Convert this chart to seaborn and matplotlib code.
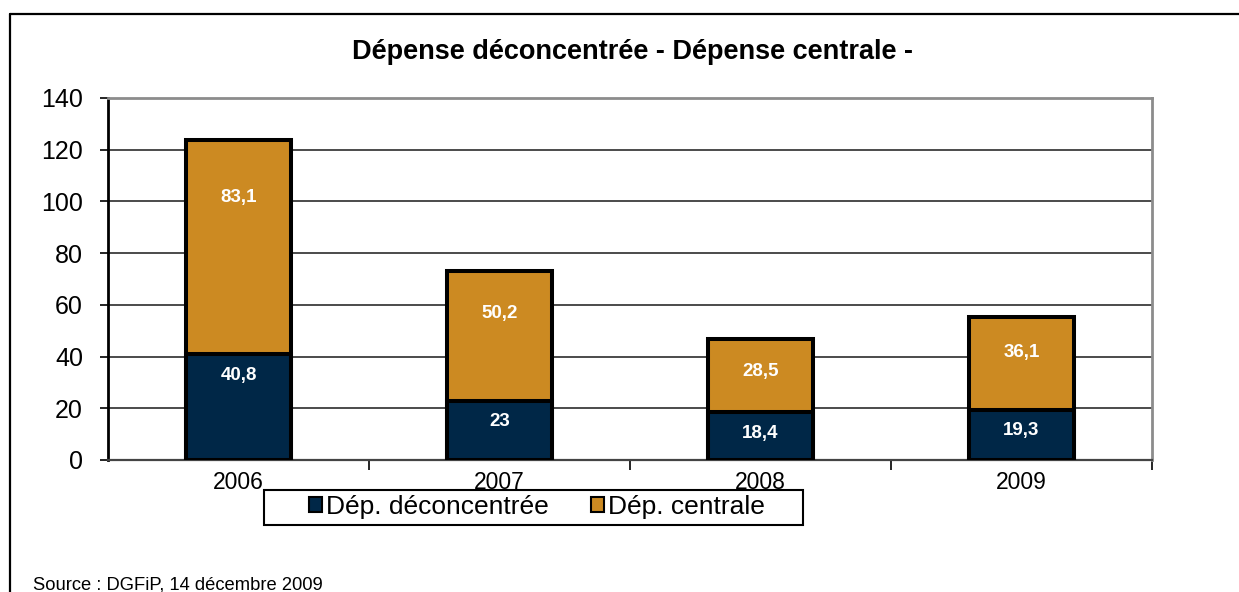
import matplotlib
matplotlib.use("Agg")
import matplotlib.pyplot as plt
import seaborn as sns
import pandas as pd
from matplotlib.lines import Line2D
from matplotlib.patches import Patch, Rectangle

# values (milliards)
years = ["2006", "2007", "2008", "2009"]
dep_deconcentree = [40.8, 23.0, 18.4, 19.3]
dep_centrale = [83.1, 50.2, 28.5, 36.1]
deconc_labels = ["40,8", "23", "18,4", "19,3"]
centrale_labels = ["83,1", "50,2", "28,5", "36,1"]

navy = "#002747"
gold = "#CC8A22"

sns.set_style("white")
plt.rcParams["font.family"] = ["Liberation Sans", "DejaVu Sans"]
plt.rcParams["text.color"] = "black"
plt.rcParams["xtick.color"] = "black"
plt.rcParams["ytick.color"] = "black"

df = pd.DataFrame({"annee": years, "deconc": dep_deconcentree, "centrale": dep_centrale})
df["total"] = df["deconc"] + df["centrale"]

W, H = 1239, 592
fig = plt.figure(figsize=(W / 100, H / 100), dpi=100)
ax = fig.add_axes([0.0872, 0.2230, 0.8426, 0.6115])

# stacked bars: total first (gold), then the lower part on top (navy)
sns.barplot(data=df, x="annee", y="total", color=gold, width=0.4,
            edgecolor="black", linewidth=2.9, saturation=1, ax=ax, zorder=3)
sns.barplot(data=df, x="annee", y="deconc", color=navy, width=0.4,
            edgecolor="black", linewidth=2.9, saturation=1, ax=ax, zorder=4)

ax.set_xlim(-0.5, 3.5)
ax.set_ylim(0, 140)
ax.set_yticks(range(0, 141, 20))
ax.set_xlabel("")
ax.set_ylabel("")

ax.yaxis.grid(True, color="#1a1a1a", linewidth=1.1)
ax.set_axisbelow(True)

for side in ["top", "right"]:
    ax.spines[side].set_visible(True)
    ax.spines[side].set_color("#8c8c8c")
    ax.spines[side].set_linewidth(2)
ax.spines["left"].set_color("black")
ax.spines["left"].set_linewidth(2)
ax.spines["bottom"].set_color("#444444")
ax.spines["bottom"].set_linewidth(1.6)

ax.tick_params(axis="y", direction="out", length=6, width=1.2, color="black",
               labelcolor="black", labelsize=18, pad=12, left=True)
ax.tick_params(axis="x", which="major", length=0, labelsize=16.5, pad=8,
               labelcolor="black")
ax.set_xticks([0.5, 1.5, 2.5, 3.5], minor=True)
ax.tick_params(axis="x", which="minor", direction="out", length=7, width=1.2,
               color="black", bottom=True)

# value labels
for i, row in df.iterrows():
    ax.annotate(deconc_labels[i], (i, row["deconc"]), xytext=(0, -15),
                textcoords="offset points", ha="center", va="center",
                color="white", fontsize=13.5, fontweight="bold", zorder=6)
    y_c = row["total"] - (7.5 + 0.18 * row["centrale"])
    ax.text(i, y_c, centrale_labels[i], ha="center", va="center",
            color="white", fontsize=13.5, fontweight="bold", zorder=6)

# legend box drawn separately, legend itself frameless
fig.add_artist(Rectangle((264 / W, 1 - 525 / H), 539 / W, 35 / H,
                         transform=fig.transFigure, facecolor="white",
                         edgecolor="black", linewidth=1.5, zorder=1))
handles = [Patch(facecolor=navy, edgecolor="black", linewidth=1.5),
           Patch(facecolor=gold, edgecolor="black", linewidth=1.5)]
leg = fig.legend(handles, ["Dép. déconcentrée", "Dép. centrale"],
                 loc="center", bbox_to_anchor=(537 / W, 1 - 507 / H), ncol=2,
                 fontsize=19, frameon=False, labelcolor="black",
                 handlelength=0.5, handleheight=0.5, handletextpad=0.15,
                 columnspacing=1.6, borderpad=0, borderaxespad=0)
leg.set_zorder(2)

fig.text(633 / W, 1 - 52 / H, "Dépense déconcentrée - Dépense centrale -",
         ha="center", va="center", fontsize=19.5, fontweight="bold",
         color="black")
fig.text(33 / W, 1 - 589 / H, "Source : DGFiP, 14 décembre 2009",
         ha="left", va="baseline", fontsize=13.2, color="black")

# outer frame (top and left edges)
fig.add_artist(Line2D([10 / W, 1.0], [1 - 14 / H, 1 - 14 / H],
                      transform=fig.transFigure, color="black", linewidth=1.6))
fig.add_artist(Line2D([10 / W, 10 / W], [0, 1 - 14 / H],
                      transform=fig.transFigure, color="black", linewidth=1.6))

fig.savefig("out.png", dpi=100)
plt.close(fig)
